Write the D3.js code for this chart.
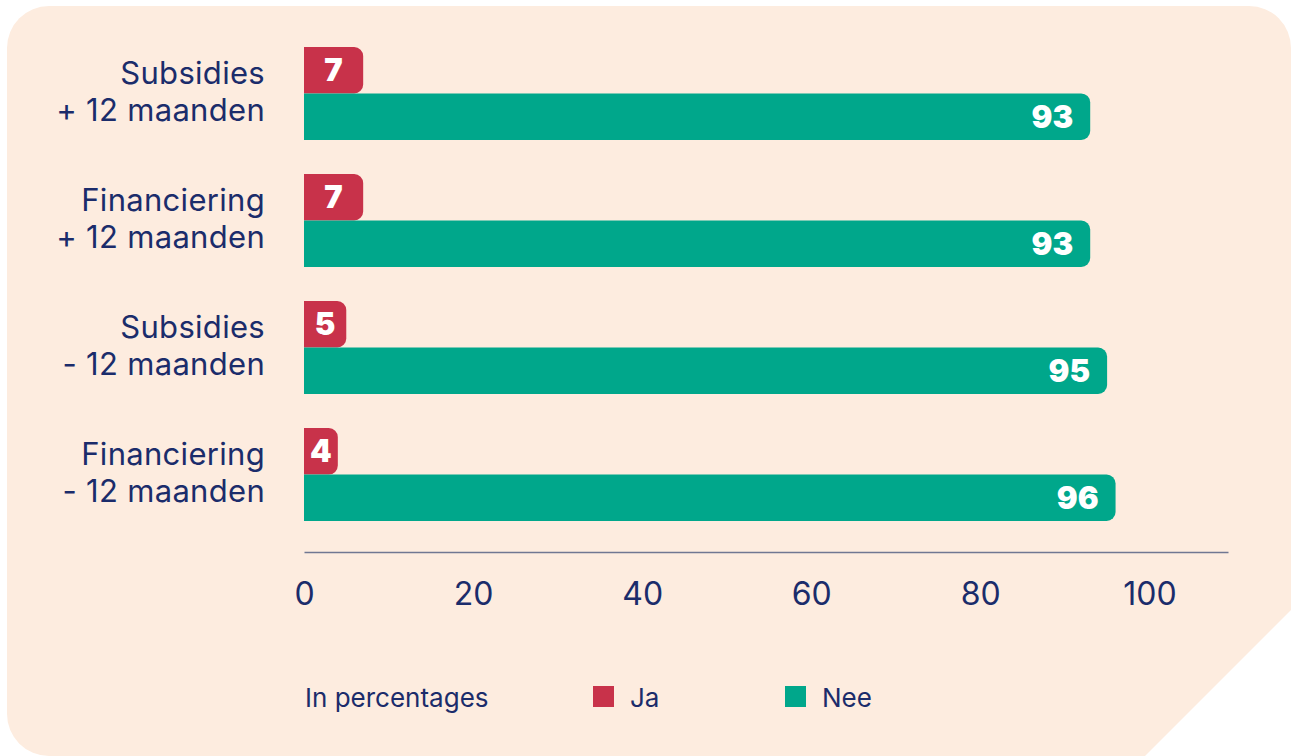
<!DOCTYPE html>
<html>
<head>
<meta charset="utf-8">
<script src="https://cdn.jsdelivr.net/npm/d3@7"></script>
<style>
  body { margin: 0; background: #ffffff; }
  svg { display: block; }
</style>
</head>
<body>
<svg id="chart"></svg>
<script>
// categories, each with two text lines
var categories = ["Subsidies + 12", "Financiering + 12", "Subsidies - 12", "Financiering - 12"];
var categoryLines = [
    ["Subsidies", "+ 12 maanden"],
    ["Financiering", "+ 12 maanden"],
    ["Subsidies", "- 12 maanden"],
    ["Financiering", "- 12 maanden"]
];
var series = ["Ja", "Nee"];
var jaValues = [7, 7, 5, 4];
var neeValues = [93, 93, 95, 96];
var tickValues = [0, 20, 40, 60, 80, 100];

var width = 1291;
var height = 756;
var navy = "#1b2c6b";
var colors = { Ja: "#c8324a", Nee: "#00a78b" };

var svg = d3.select("#chart")
    .attr("width", width)
    .attr("height", height);

// background panel: rounded corners, bottom right cut off
var r = 42;
var panel = d3.path();
panel.moveTo(7 + r, 6);
panel.lineTo(1291 - r, 6);
panel.arcTo(1291, 6, 1291, 6 + r, r);
panel.lineTo(1291, 610);
panel.lineTo(1145, 756);
panel.lineTo(7 + r, 756);
panel.arcTo(7, 756, 7, 756 - r, r);
panel.lineTo(7, 6 + r);
panel.arcTo(7, 6, 7 + r, 6, r);
panel.closePath();
svg.append("path")
    .attr("d", panel.toString())
    .attr("fill", "#fdecdf");

var x = d3.scaleLinear()
    .domain([0, 109.3])
    .range([304, 1228]);

var y = d3.scaleBand()
    .domain(categories)
    .range([47, 521])
    .paddingInner(0.268);

var ySub = d3.scaleBand()
    .domain(series)
    .range([0, y.bandwidth()]);

var rows = categories.map(function (c, i) {
    return { cat: c, lines: categoryLines[i], Ja: jaValues[i], Nee: neeValues[i] };
});

// bar with rounded right end only
function barPath(x0, y0, w, h, rad) {
    rad = Math.min(rad, w, h / 2);
    var p = d3.path();
    p.moveTo(x0, y0);
    p.lineTo(x0 + w - rad, y0);
    p.arcTo(x0 + w, y0, x0 + w, y0 + rad, rad);
    p.lineTo(x0 + w, y0 + h - rad);
    p.arcTo(x0 + w, y0 + h, x0 + w - rad, y0 + h, rad);
    p.lineTo(x0, y0 + h);
    p.closePath();
    return p.toString();
}

var group = svg.selectAll(".row")
    .data(rows)
    .enter().append("g")
    .attr("class", "row")
    .attr("transform", function (d) {
        return "translate(0," + y(d.cat) + ")";
    });

// category labels
group.append("text")
    .attr("text-anchor", "end")
    .attr("font-family", "Inter, 'Noto Sans', sans-serif")
    .attr("font-size", "31px")
    .attr("letter-spacing", "0.3px")
    .attr("fill", navy)
    .selectAll("tspan")
    .data(function (d) { return d.lines; })
    .enter().append("tspan")
    .attr("x", 265)
    .attr("y", function (d, i) { return 37 + i * 37; })
    .text(function (d) { return d; });

series.forEach(function (s) {
    group.append("path")
        .attr("d", function (d) {
            return barPath(x(0), ySub(s), x(d[s]) - x(0), ySub.bandwidth(), 9);
        })
        .attr("fill", colors[s]);

    group.append("text")
        .attr("x", function (d) {
            if (s == "Ja") {
                return (x(0) + x(d[s])) / 2;
            } else {
                return x(d[s]) - 17;
            }
        })
        .attr("y", ySub(s) + ySub.bandwidth() / 2)
        .attr("dy", "0.36em")
        .attr("text-anchor", s == "Ja" ? "middle" : "end")
        .attr("font-family", "Inter, 'Noto Sans', sans-serif")
        .attr("font-weight", 900)
        .attr("font-size", "31px")
        .attr("fill", "#ffffff")
        .text(function (d) { return d[s]; });
});

// x axis
var axis = svg.append("g")
    .attr("transform", "translate(0,552)")
    .call(d3.axisBottom(x).tickValues(tickValues).tickSize(0).tickSizeOuter(0).tickPadding(30));

axis.select(".domain")
    .attr("stroke", "#707792")
    .attr("stroke-width", 1.5);

axis.selectAll("text")
    .attr("font-family", "Inter, 'Noto Sans', sans-serif")
    .attr("font-size", "32px")
    .attr("fill", navy);

// legend
var legend = svg.append("g")
    .attr("font-family", "Inter, 'Noto Sans', sans-serif")
    .attr("font-size", "26px")
    .attr("fill", navy);

legend.append("text")
    .attr("x", 305)
    .attr("y", 707)
    .text("In percentages");

var legendX = { Ja: 593, Nee: 785 };
series.forEach(function (s) {
    legend.append("rect")
        .attr("x", legendX[s])
        .attr("y", 686)
        .attr("width", 21)
        .attr("height", 21)
        .attr("fill", colors[s]);
    legend.append("text")
        .attr("x", legendX[s] + 37)
        .attr("y", 707)
        .text(s);
});
</script>
</body>
</html>
